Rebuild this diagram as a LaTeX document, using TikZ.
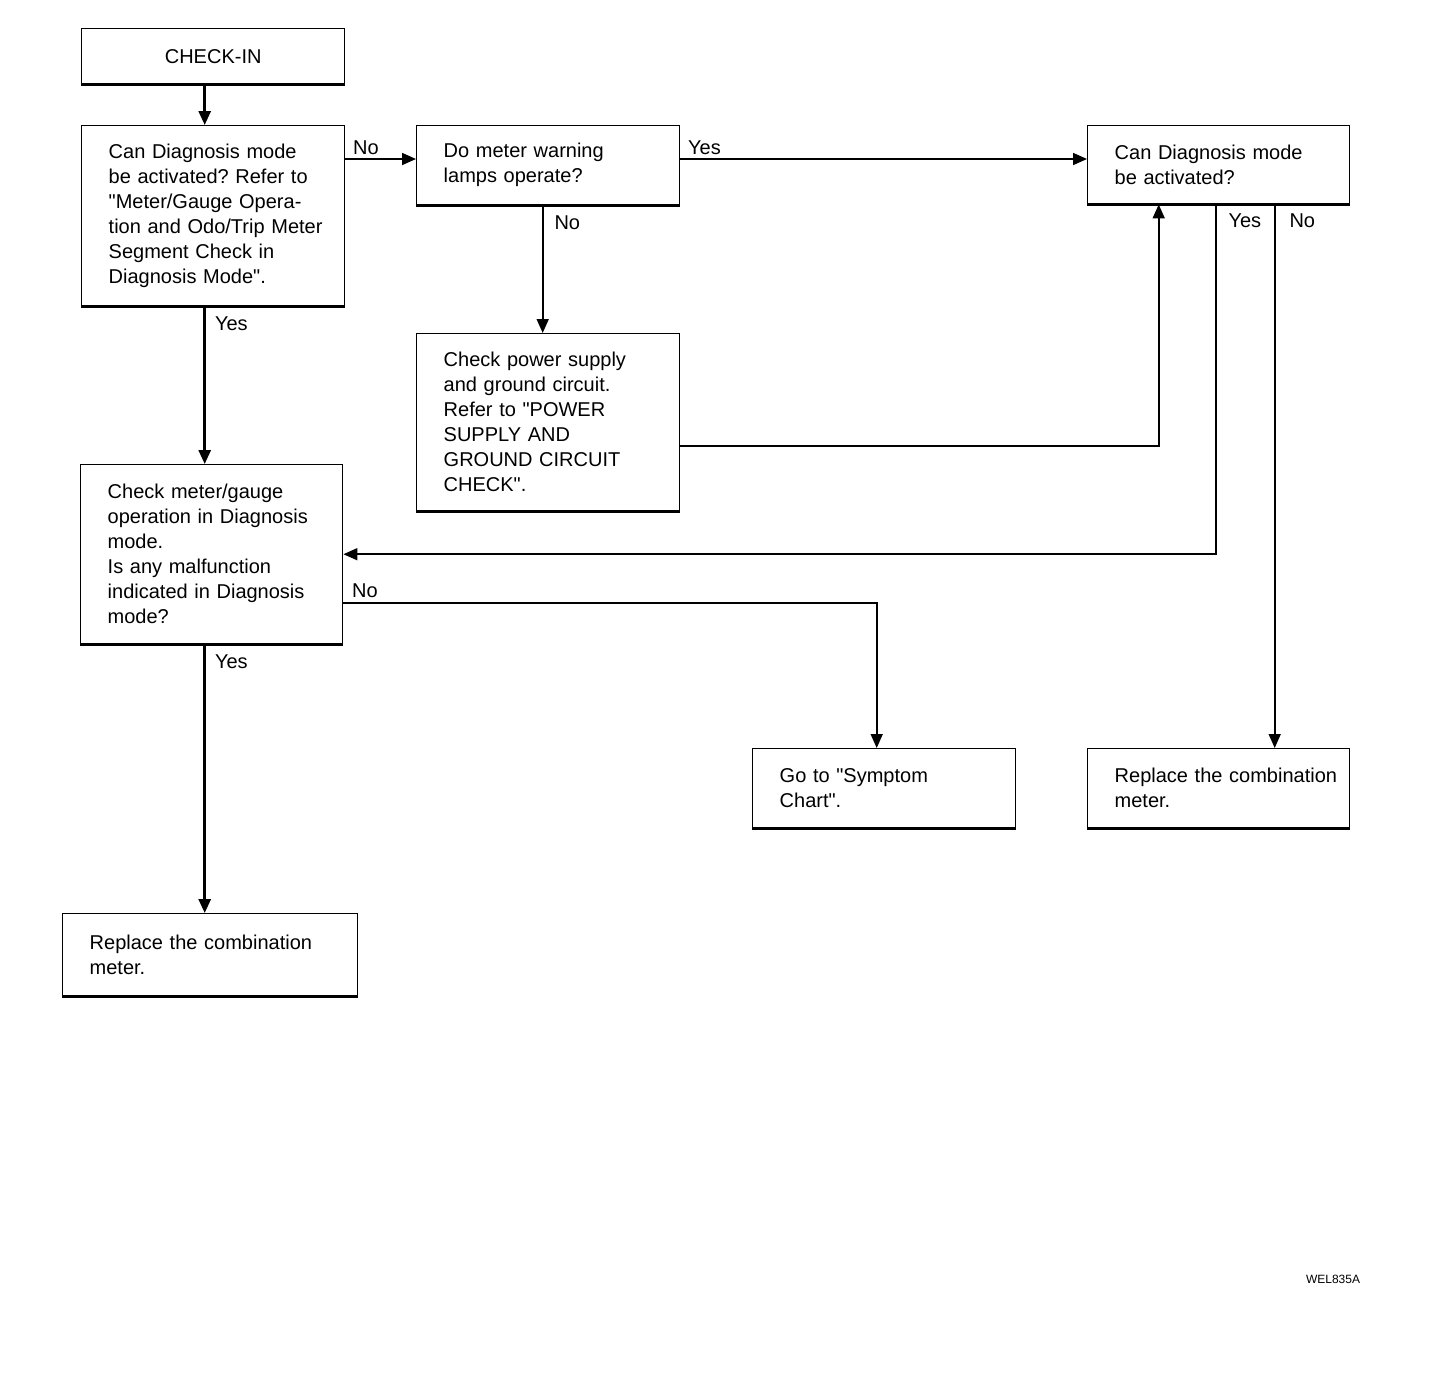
\documentclass[tikz,border=0pt]{standalone}
\usepackage{fontspec}
\setmainfont{Liberation Sans}[Ligatures=TeXOff]
\usepackage{tikz}
\usetikzlibrary{arrows.meta}
\tikzset{>={Triangle[length=7pt,width=6pt]}}
\tikzset{
  stepbox/.style={draw,line width=.7pt,anchor=north west,inner sep=0pt,
    text width=131.5pt,font=\fontsize{10}{12.5}\selectfont,
    execute at begin node={\leftskip=13.5pt\rightskip=0pt plus 1fil\parfillskip=0pt plus 1fil}},
  startbox/.style={draw,line width=.7pt,anchor=north west,inner sep=0pt,
    minimum width=131.5pt,minimum height=27.5pt,align=center,font=\fontsize{10}{12.5}\selectfont},
  flow/.style={->,line width=.8pt},
  trunk/.style={->,line width=1.4pt},
  lbl/.style={font=\fontsize{10}{12}\selectfont,inner sep=2pt}
}
\hfuzz=30pt
\frenchspacing

\begin{document}
\begin{tikzpicture}[x=0.5pt,y=-0.5pt]
\useasboundingbox (0,0) rectangle (1456,1378);
% boxes
\node[startbox] (checkin) at (81,28) {CHECK-IN};
\node[stepbox,minimum height=90pt] (diag) at (81,125) {Can Diagnosis mode\\be activated? Refer to\\"Meter/Gauge Opera-\\tion and Odo/Trip Meter\\Segment Check in\\Diagnosis Mode".};
\node[stepbox,minimum height=39.5pt] (lamps) at (416,125) {Do meter warning\\lamps operate?};
\node[stepbox,text width=131pt,minimum height=39pt] (act) at (1087,125) {Can Diagnosis mode\\be activated?};
\node[stepbox,minimum height=88.5pt] (power) at (416,333) {Check power supply\\and ground circuit.\\Refer to "POWER\\SUPPLY AND\\GROUND CIRCUIT\\CHECK".};
\node[stepbox,text width=131pt,minimum height=89.5pt] (meter) at (80,464) {Check meter/gauge\\operation in Diagnosis\\mode.\\Is any malfunction\\indicated in Diagnosis\\mode?};
\node[stepbox,minimum height=39.5pt] (chart) at (752,748) {Go to "Symptom\\Chart".};
\node[stepbox,text width=131pt,minimum height=39.5pt] (replR) at (1087,748) {Replace the combination\\meter.};
\node[stepbox,text width=147.5pt,minimum height=41pt] (replL) at (62,913) {Replace the combination\\meter.};
\node[font=\fontsize{6}{7}\selectfont] (code) at (1333,1279) {WEL835A};
\foreach \b in {checkin,diag,lamps,act,power,meter,chart,replR,replL}
  \draw[line width=1.4pt] (\b.south west) -- (\b.south east);

% connectors
\draw[trunk] ([xshift=-4.25pt]checkin.south) -- ([xshift=-4.25pt]checkin.south |- diag.north);
\draw[flow] ([yshift=-17pt]diag.north east) node[lbl,above right,xshift=1.5pt]{No}
  -- ([yshift=-17pt]diag.north east -| lamps.west);
\draw[flow] ([yshift=-17pt]lamps.north east) node[lbl,above right,xshift=1.5pt]{Yes}
  -- ([yshift=-17pt]lamps.north east -| act.west);
\draw[flow] ([xshift=-2.75pt]lamps.south) node[lbl,below right,xshift=3.5pt,yshift=-3pt]{No}
  -- ([xshift=-2.75pt]power.north);
\draw[flow] ([yshift=-11.75pt]power.east) -| ([xshift=-30pt]act.south);
\draw[trunk] ([xshift=-4.25pt]diag.south) node[lbl,below right,xshift=2.5pt,yshift=-2.5pt]{Yes}
  -- ([xshift=-4.25pt]diag.south |- meter.north);
\draw[flow] ([xshift=-1.5pt]act.south) node[lbl,below right,xshift=4pt,yshift=-2.5pt]{Yes}
  |- (meter.east);
\draw[flow] ([xshift=28pt]act.south) node[lbl,below right,xshift=5pt,yshift=-2.5pt]{No}
  -- ([xshift=28pt]act.south |- replR.north);
\draw[flow] ([yshift=-24.25pt]meter.east) node[lbl,above right,xshift=2pt]{No}
  -| ([xshift=-3.75pt]chart.north);
\draw[trunk] ([xshift=-3.5pt]meter.south) node[lbl,below right,xshift=2.5pt,yshift=-2.5pt]{Yes}
  -- ([xshift=-3.5pt]meter.south |- replL.north);
\end{tikzpicture}
\end{document}
